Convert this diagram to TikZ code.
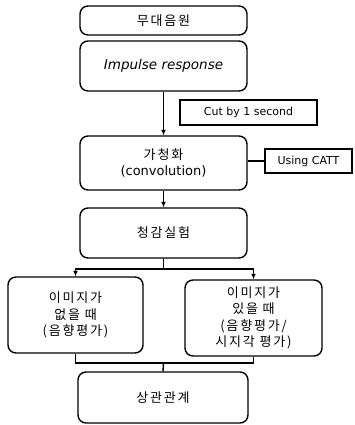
\documentclass[tikz,border=0pt]{standalone}
\usepackage{fontspec}
\setmainfont{DejaVu Sans}
\newfontfamily\kr[LetterSpace=14]{Noto Sans CJK KR}
\usetikzlibrary{arrows.meta}
\tikzset{
  box/.style={draw, line width=1.4pt, rounded corners=8pt, inner sep=0pt, align=center, font=\fontsize{13}{16.5}\selectfont},
  tag/.style={draw, line width=1.4pt, inner sep=0pt, align=center, font=\fontsize{11}{13}\selectfont},
  ln/.style={line width=1.4pt},
  ar/.style={line width=1.4pt, -{Latex[length=5.5pt,width=5pt]}},
}
\begin{document}
\begin{tikzpicture}[x=1pt,y=-1pt]
\useasboundingbox (0,0) rectangle (354,425);
\node[box, minimum width=167pt, minimum height=29pt] (b1) at (163.5,20.5) {\kr 무대음원};
\node[box, minimum width=167pt, minimum height=50pt] (b2) at (163.5,66) {\fontsize{13.5}{16}\selectfont\itshape Impulse response};
\node[tag, minimum width=137pt, minimum height=25pt] (cut) at (248.5,112.5) {Cut by 1 second};
\node[box, minimum width=167pt, minimum height=54pt] (b3) at (163.5,163) {{\kr 가청화}\\(convolution)};
\node[tag, minimum width=87pt, minimum height=24pt] (catt) at (308.5,161) {Using CATT};
\node[box, minimum width=167pt, minimum height=50pt] (b4) at (163.5,233) {\kr 청감실험};
\node[box, minimum width=135pt, minimum height=76pt] (lb) at (75.5,315) {\kr 이미지가\\ \kr 없을 때\\ \kr (음향평가)};
\node[box, minimum width=137pt, minimum height=76pt] (rb) at (253.5,318) {\kr 이미지가\\ \kr 있을 때\\ \kr (음향평가/\\ \kr 시지각 평가)};
\node[box, minimum width=170pt, minimum height=51pt] (b5) at (163,397.5) {\kr 상관관계};
\coordinate (split) at (163.5,269);
\coordinate (merge) at (163.5,363);
\draw[ar] (b2.south) -- (b3.north);
\draw[ln] (b3.east |- catt.west) -- (catt.west);
\draw[ar] (b3.south) -- (b4.north);
\draw[ln] (b4.south) -- (split);
\draw[ar] (split) -| (lb.north);
\draw[ar] (split) -| (rb.north);
\draw[ln] (lb.south) |- (merge);
\draw[ln] (rb.south) |- (merge);
\draw[ln] (merge) -- (b5.north);
\end{tikzpicture}
\end{document}
